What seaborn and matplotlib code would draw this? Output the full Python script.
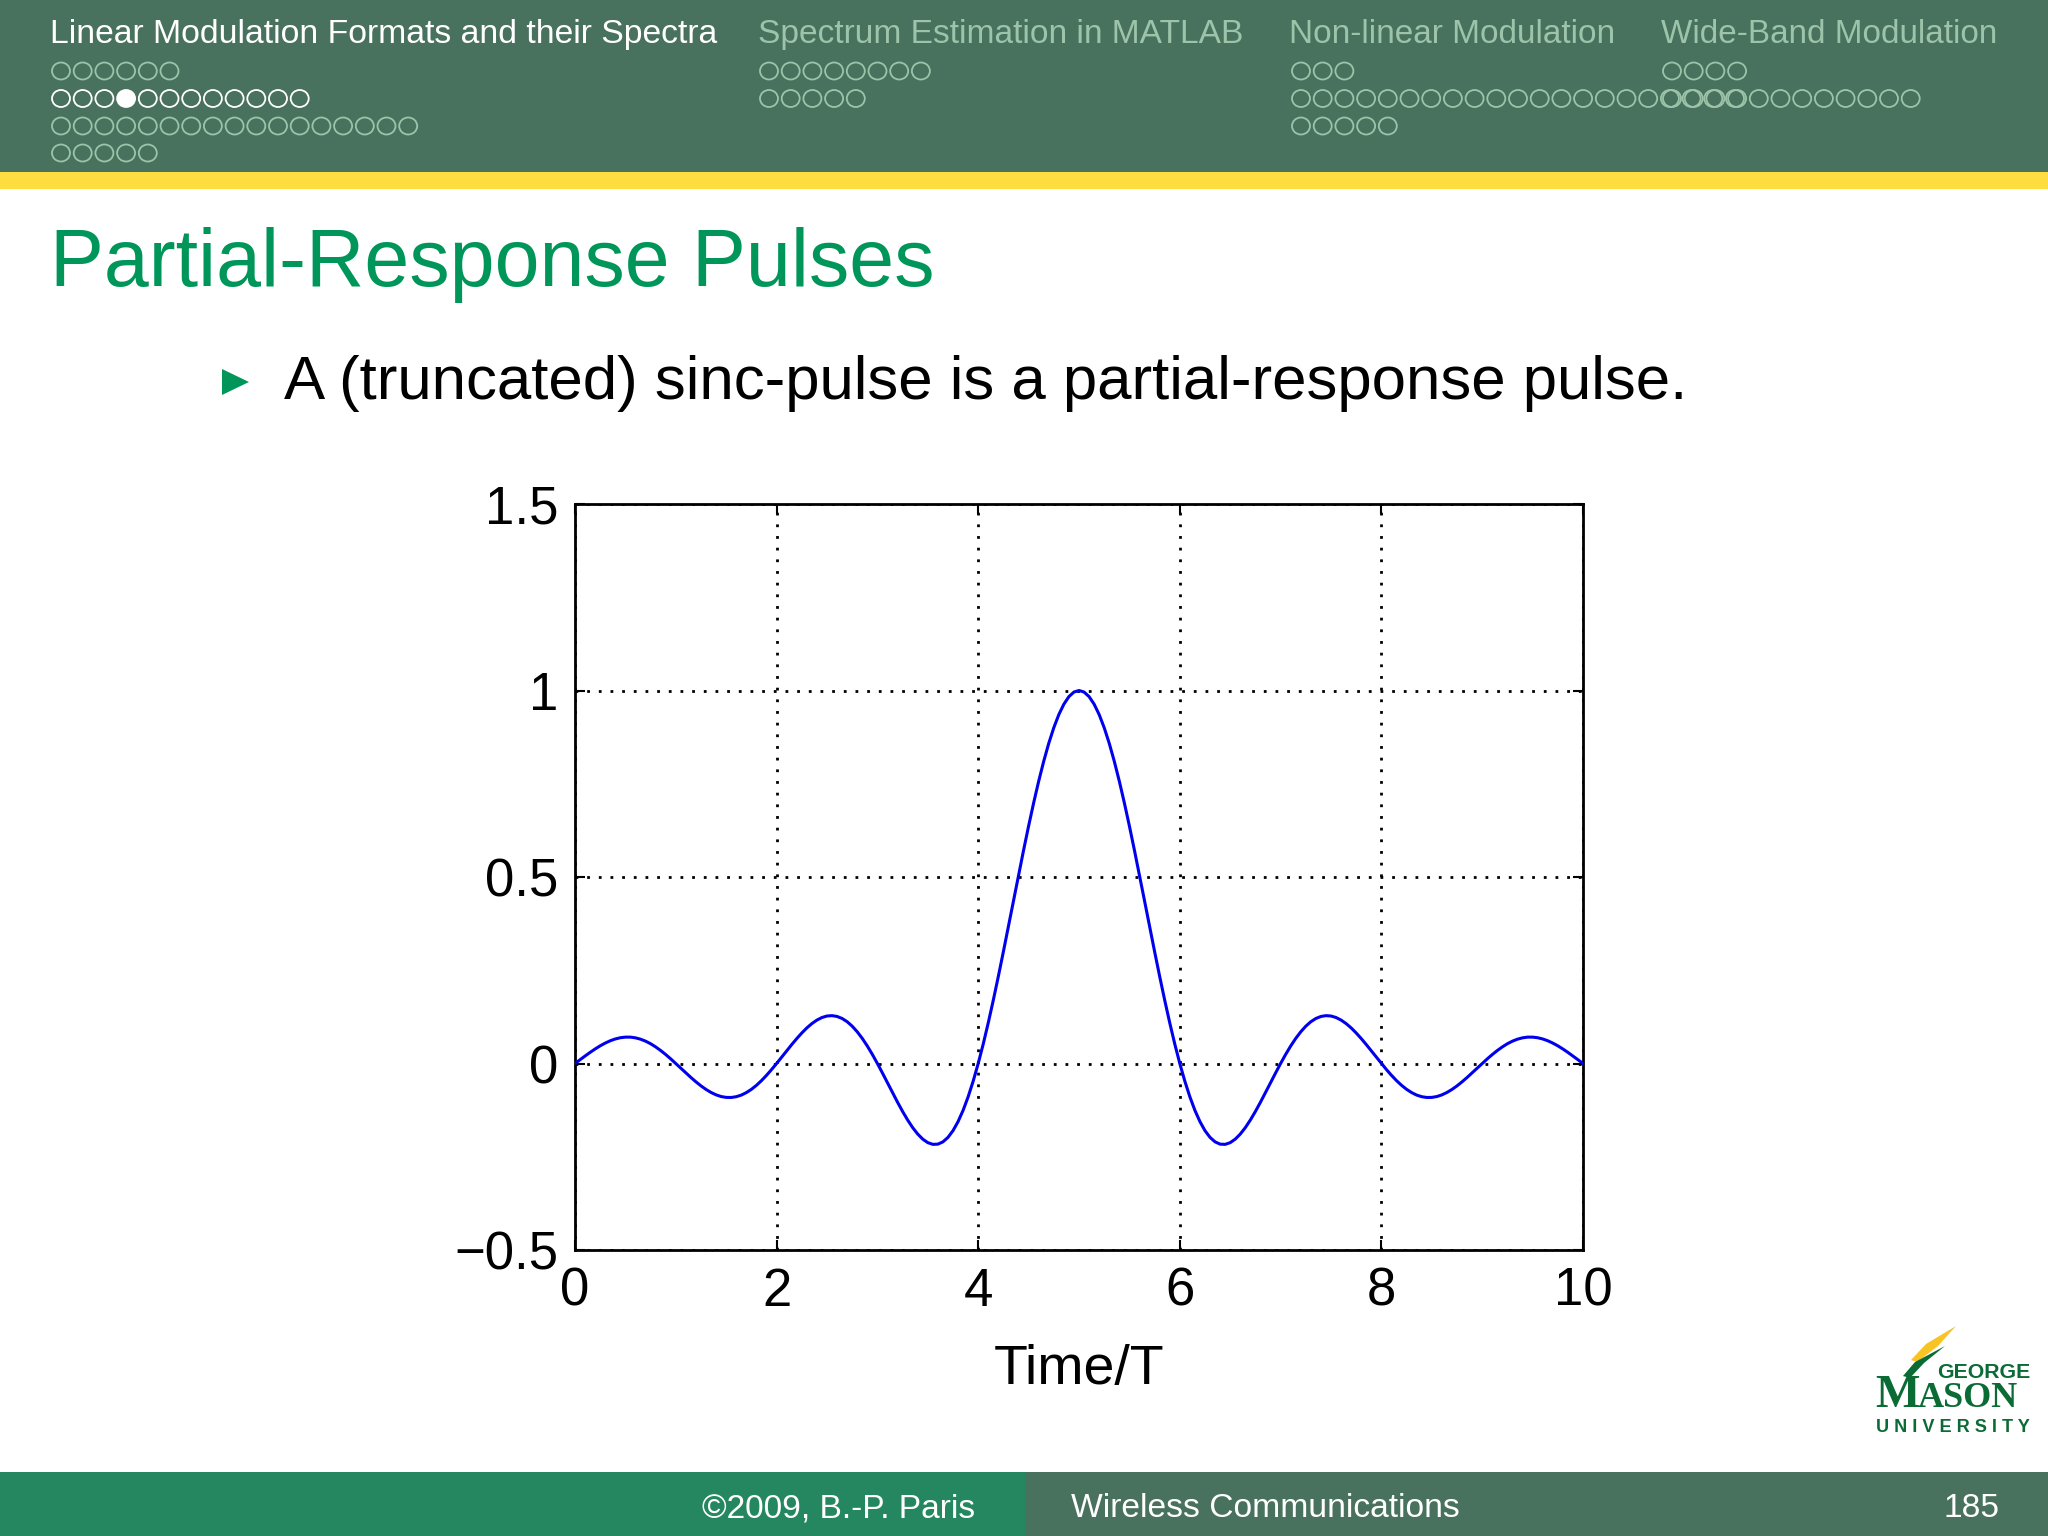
import matplotlib
matplotlib.use("Agg")
import matplotlib.pyplot as plt
from matplotlib.patches import Rectangle, Ellipse, Polygon
import seaborn as sns
import pandas as pd

# ---------------- data ----------------
time_t = [0.00, 0.05, 0.10, 0.15, 0.20, 0.25, 0.30, 0.35, 0.40, 0.45,
          0.50, 0.55, 0.60, 0.65, 0.70, 0.75, 0.80, 0.85, 0.90, 0.95,
          1.00, 1.05, 1.10, 1.15, 1.20, 1.25, 1.30, 1.35, 1.40, 1.45,
          1.50, 1.55, 1.60, 1.65, 1.70, 1.75, 1.80, 1.85, 1.90, 1.95,
          2.00, 2.05, 2.10, 2.15, 2.20, 2.25, 2.30, 2.35, 2.40, 2.45,
          2.50, 2.55, 2.60, 2.65, 2.70, 2.75, 2.80, 2.85, 2.90, 2.95,
          3.00, 3.05, 3.10, 3.15, 3.20, 3.25, 3.30, 3.35, 3.40, 3.45,
          3.50, 3.55, 3.60, 3.65, 3.70, 3.75, 3.80, 3.85, 3.90, 3.95,
          4.00, 4.05, 4.10, 4.15, 4.20, 4.25, 4.30, 4.35, 4.40, 4.45,
          4.50, 4.55, 4.60, 4.65, 4.70, 4.75, 4.80, 4.85, 4.90, 4.95,
          5.00, 5.05, 5.10, 5.15, 5.20, 5.25, 5.30, 5.35, 5.40, 5.45,
          5.50, 5.55, 5.60, 5.65, 5.70, 5.75, 5.80, 5.85, 5.90, 5.95,
          6.00, 6.05, 6.10, 6.15, 6.20, 6.25, 6.30, 6.35, 6.40, 6.45,
          6.50, 6.55, 6.60, 6.65, 6.70, 6.75, 6.80, 6.85, 6.90, 6.95,
          7.00, 7.05, 7.10, 7.15, 7.20, 7.25, 7.30, 7.35, 7.40, 7.45,
          7.50, 7.55, 7.60, 7.65, 7.70, 7.75, 7.80, 7.85, 7.90, 7.95,
          8.00, 8.05, 8.10, 8.15, 8.20, 8.25, 8.30, 8.35, 8.40, 8.45,
          8.50, 8.55, 8.60, 8.65, 8.70, 8.75, 8.80, 8.85, 8.90, 8.95,
          9.00, 9.05, 9.10, 9.15, 9.20, 9.25, 9.30, 9.35, 9.40, 9.45,
          9.50, 9.55, 9.60, 9.65, 9.70, 9.75, 9.80, 9.85, 9.90, 9.95,
          10.00]
pulse = [0.0, 0.0101, 0.0201, 0.0298, 0.0390, 0.0474, 0.0548, 0.0610, 0.0658, 0.0691,
         0.0707, 0.0707, 0.0688, 0.0652, 0.0599, 0.0530, 0.0445, 0.0348, 0.0240, 0.0123,
         0.0, -0.0126, -0.0252, -0.0375, -0.0492, -0.0600, -0.0696, -0.0777, -0.0841, -0.0886,
         -0.0909, -0.0911, -0.0890, -0.0847, -0.0780, -0.0693, -0.0585, -0.0459, -0.0317, -0.0163,
         0.0, 0.0169, 0.0339, 0.0507, 0.0668, 0.0818, 0.0954, 0.1070, 0.1164, 0.1233,
         0.1273, 0.1283, 0.1261, 0.1207, 0.1120, 0.1000, 0.0850, 0.0672, 0.0468, 0.0243,
         0.0, -0.0255, -0.0518, -0.0781, -0.1039, -0.1286, -0.1515, -0.1719, -0.1892, -0.2028,
         -0.2122, -0.2168, -0.2162, -0.2101, -0.1981, -0.1801, -0.1559, -0.1257, -0.0894, -0.0474,
         0.0, 0.0524, 0.1093, 0.1700, 0.2339, 0.3001, 0.3679, 0.4363, 0.5046, 0.5716,
         0.6366, 0.6986, 0.7568, 0.8103, 0.8584, 0.9003, 0.9355, 0.9634, 0.9836, 0.9959,
         1.0, 0.9959, 0.9836, 0.9634, 0.9355, 0.9003, 0.8584, 0.8103, 0.7568, 0.6986,
         0.6366, 0.5716, 0.5046, 0.4363, 0.3679, 0.3001, 0.2339, 0.1700, 0.1093, 0.0524,
         0.0, -0.0474, -0.0894, -0.1257, -0.1559, -0.1801, -0.1981, -0.2101, -0.2162, -0.2168,
         -0.2122, -0.2028, -0.1892, -0.1719, -0.1515, -0.1286, -0.1039, -0.0781, -0.0518, -0.0255,
         0.0, 0.0243, 0.0468, 0.0672, 0.0850, 0.1000, 0.1120, 0.1207, 0.1261, 0.1283,
         0.1273, 0.1233, 0.1164, 0.1070, 0.0954, 0.0818, 0.0668, 0.0507, 0.0339, 0.0169,
         0.0, -0.0163, -0.0317, -0.0459, -0.0585, -0.0693, -0.0780, -0.0847, -0.0890, -0.0911,
         -0.0909, -0.0886, -0.0841, -0.0777, -0.0696, -0.0600, -0.0492, -0.0375, -0.0252, -0.0126,
         0.0, 0.0123, 0.0240, 0.0348, 0.0445, 0.0530, 0.0599, 0.0652, 0.0688, 0.0707,
         0.0707, 0.0691, 0.0658, 0.0610, 0.0548, 0.0474, 0.0390, 0.0298, 0.0201, 0.0101,
         0.0]

x_ticks = [0, 2, 4, 6, 8, 10]
x_tick_labels = ["0", "2", "4", "6", "8", "10"]
y_ticks = [-0.5, 0, 0.5, 1, 1.5]
y_tick_labels = ["\u22120.5", "0", "0.5", "1", "1.5"]
x_label = "Time/T"

slide_title = "Partial-Response Pulses"
bullet_text = "A (truncated) sinc-pulse is a partial-response pulse."
nav_sections = ["Linear Modulation Formats and their Spectra",
                "Spectrum Estimation in MATLAB",
                "Non-linear Modulation",
                "Wide-Band Modulation"]
nav_dot_rows = [[6, 12, 17, 5], [8, 5], [3, 21, 5], [4, 12]]
footer_left = "\u00a92009, B.-P. Paris"
footer_mid = "Wireless Communications"
footer_page = "185"

# ---------------- style ----------------
sns.set_theme(style="white")
plt.rcParams["font.family"] = ["Liberation Sans", "DejaVu Sans"]

W, H = 2048, 1536
fig = plt.figure(figsize=(W / 100, H / 100), dpi=100, facecolor="white")
renderer = fig.canvas.get_renderer()


def fx(x):
    return x / W


def fy(y):
    return 1 - y / H


def put(x, y, s, width_px, color, ha="left", **kw):
    t = fig.text(fx(x), fy(y), s, ha=ha, va="baseline", fontsize=20, color=color, **kw)
    bb = t.get_window_extent(renderer)
    t.set_fontsize(20 * width_px / bb.width)
    return t


HEAD_BG = "#48725d"
FADE = "#9dc4aa"
GREEN_T = "#00965a"
YELLOW = "#fddd40"
FOOT_L = "#24875f"

# header band
fig.patches.append(Rectangle((0, fy(172)), 1, 172 / H, transform=fig.transFigure,
                             facecolor=HEAD_BG, edgecolor="none", zorder=0))
fig.patches.append(Rectangle((0, fy(189)), 1, 17 / H, transform=fig.transFigure,
                             facecolor=YELLOW, edgecolor="none", zorder=0))
# footer band
fig.patches.append(Rectangle((0, 0), fx(1025), 64 / H, transform=fig.transFigure,
                             facecolor=FOOT_L, edgecolor="none", zorder=0))
fig.patches.append(Rectangle((fx(1025), 0), 1 - fx(1025), 64 / H, transform=fig.transFigure,
                             facecolor=HEAD_BG, edgecolor="none", zorder=0))

# navigation headings
nav_x = [50, 758, 1289, 1661]
nav_w = [665, 485, 326, 336]
for i, (s, x, w) in enumerate(zip(nav_sections, nav_x, nav_w)):
    put(x, 43, s, w, "white" if i == 0 else FADE)

# navigation dots
row_y = [71, 98.5, 126, 153]
dot_start = [52, 760, 1292, 1663]
step = 21.7
for si, rows in enumerate(nav_dot_rows):
    for ri, n in enumerate(rows):
        col = "white" if (si == 0 and ri == 1) else FADE
        for k in range(n):
            cx = dot_start[si] + 9 + k * step
            filled = (si == 0 and ri == 1 and k == 3)
            fig.patches.append(Ellipse((fx(cx), fy(row_y[ri])), 18 / W, 17 / H,
                                       transform=fig.transFigure,
                                       facecolor=col if filled else "none",
                                       edgecolor=col, linewidth=1.3, zorder=2))

# title and bullet
put(50, 286, slide_title, 882, GREEN_T)
fig.patches.append(Polygon([(fx(222), fy(369)), (fx(222), fy(395)), (fx(249), fy(382))],
                           closed=True, transform=fig.transFigure,
                           facecolor=GREEN_T, edgecolor="none"))
put(284, 399, bullet_text, 1403, "black")

# footer texts
put(975, 1517, footer_left, 273, "white", ha="right")
put(1071, 1517, footer_mid, 388, "white")
put(1999, 1517, footer_page, 56, "white", ha="right")

# ---------------- chart ----------------
ax = fig.add_axes([fx(575), fy(1250), (1583 - 575) / W, (1250 - 504) / H])
df = pd.DataFrame({"t": time_t, "p": pulse})
sns.lineplot(data=df, x="t", y="p", ax=ax, color="#0000ee", linewidth=2.2,
             estimator=None, sort=False, zorder=3)
ax.set_xlim(0, 10)
ax.set_ylim(-0.5, 1.5)
ax.set_xticks(x_ticks)
ax.set_xticklabels(x_tick_labels)
ax.set_yticks(y_ticks)
ax.set_yticklabels(y_tick_labels)
ax.set_xlabel(x_label, fontsize=40, labelpad=20, color="black")
ax.set_ylabel("")
ax.grid(True, color="black", linestyle=(0, (1, 3.2)), linewidth=2.0)
ax.set_axisbelow(True)
ax.tick_params(axis="both", which="major", direction="in", length=7, width=1.5,
               colors="black", labelsize=38, top=True, right=True,
               bottom=True, left=True)
ax.tick_params(axis="x", pad=12)
ax.tick_params(axis="y", pad=12)
for sp in ax.spines.values():
    sp.set_visible(True)
    sp.set_color("black")
    sp.set_linewidth(2.0)
ax.set_facecolor("white")

# ---------------- logo ----------------
LOGO_G = "#0b6b35"
LOGO_Y = "#f7c325"
fig.patches.append(Polygon([(fx(1911), fy(1360)), (fx(1926), fy(1344)), (fx(1956), fy(1326)),
                            (fx(1938), fy(1346)), (fx(1917), fy(1362))],
                           closed=True, transform=fig.transFigure,
                           facecolor=LOGO_Y, edgecolor="none"))
fig.patches.append(Polygon([(fx(1903), fy(1376)), (fx(1915), fy(1362)), (fx(1945), fy(1346)),
                            (fx(1924), fy(1363)), (fx(1910), fy(1378))],
                           closed=True, transform=fig.transFigure,
                           facecolor=LOGO_G, edgecolor="none"))
fig.text(fx(1875), fy(1407), "M", fontsize=34, color=LOGO_G, family="Liberation Serif",
         weight="bold", ha="left", va="baseline")
fig.text(fx(1918), fy(1407), "ASON", fontsize=26, color=LOGO_G, family="Liberation Serif",
         weight="bold", ha="left", va="baseline")
put(1937, 1378, "GEORGE", 93, LOGO_G, weight="bold")
put(1876, 1432, "U N I V E R S I T Y", 154, LOGO_G, weight="bold")

fig.savefig("out.png", dpi=100, facecolor="white")
